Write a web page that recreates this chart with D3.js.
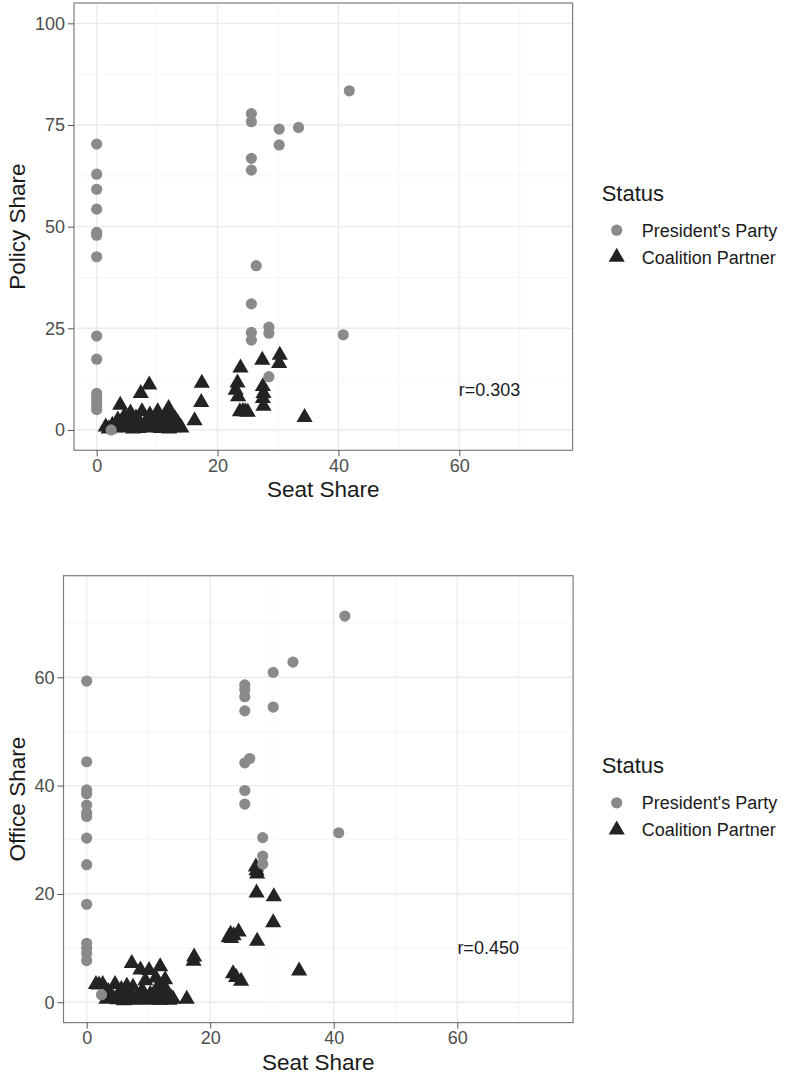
<!DOCTYPE html>
<html lang="en">
<head>
    <meta charset="utf-8">
    <title>Seat share vs policy and office share</title>
    <script src="https://cdn.jsdelivr.net/npm/d3@7"></script>
    <style>
        body { margin: 0; background: #fff; }
        svg { font-family: "Liberation Sans", Arial, sans-serif; }
        .grid-major { stroke: #ebebeb; stroke-width: 1.4; }
        .grid-minor { stroke: #f3f3f3; stroke-width: 0.8; }
        .tick text { fill: #4d4d4d; font-size: 18px; }
        .tick line { stroke: #555; stroke-width: 1; }
        .axis-title { fill: #1a1a1a; font-size: 22.5px; }
        .legend-title { fill: #1a1a1a; font-size: 22px; }
        .legend-label { fill: #1a1a1a; font-size: 18px; }
        .note { fill: #1a1a1a; font-size: 18px; }
        .pres { fill: #8a8a8d; }
        .coal { fill: #232323; }
    </style>
</head>
<body>
<div id="container"></div>
<script>
    const w = 789;
    const h = 1077;

    // president's parties: seat share, policy share, office share
    const presSeat = [0, 0, 0, 0, 0, 0, 0, 0, 0, 0, 0, 0, 0, 0,
        2.4, 25.6, 25.6, 25.6, 25.6, 25.6, 25.6, 25.6, 26.4,
        28.5, 28.5, 28.5, 30.2, 30.2, 33.4, 40.8, 41.8];
    const presPolicy = [70.3, 62.9, 59.2, 54.3, 48.6, 47.9, 42.6, 23.1, 17.4, 9.0, 8.0, 7.0, 6.0, 5.0,
        0.0, 77.8, 75.8, 66.8, 63.9, 31.0, 24.0, 22.1, 40.4,
        25.3, 23.8, 13.1, 74.0, 70.1, 74.4, 23.4, 83.4];
    const presOffice = [59.3, 44.4, 39.2, 38.5, 36.4, 35.0, 34.3, 30.3, 25.4, 18.1, 10.9, 10.0, 9.0, 7.7,
        1.4, 58.6, 57.7, 56.4, 53.8, 44.2, 39.1, 36.6, 45.0,
        30.4, 27.0, 25.5, 60.9, 54.5, 62.8, 31.3, 71.3];

    // coalition partners: seat share, policy share, office share
    const coalSeat = [23.0, 23.3, 23.8, 23.4, 24.6, 23.7, 24.2, 25.0,
        27.4, 27.5, 27.6, 27.5, 27.6, 30.3, 30.2, 34.4, 17.4, 17.3, 16.2,
        8.7, 7.3, 10.1, 11.9, 1.5, 2.6, 3.9, 5.6, 7.5, 8.8, 12.4, 10.3,
        3.2, 4.3, 5.0, 6.2, 6.9, 8.0, 9.3, 9.9, 11.0, 11.5, 12.2, 12.9, 13.4, 14.0,
        2.0, 3.5, 4.6, 5.4, 6.5, 7.0, 8.3, 9.0, 10.6, 11.4, 12.0, 13.0, 13.7, 6.0,
        9.5, 11.2, 12.7];
    const coalPolicy = [9.8, 11.6, 15.3, 8.2, 4.5, 4.5, 4.6, 4.4,
        17.2, 10.7, 9.0, 7.8, 5.9, 18.4, 16.4, 3.1, 11.5, 6.8, 2.3,
        11.1, 9.0, 4.5, 5.3, 0.8, 1.2, 6.1, 4.2, 4.5, 3.7, 3.7, 2.0,
        0.5, 1.6, 0.6, 1.8, 0.4, 1.5, 0.8, 1.3, 2.2, 0.7, 1.4, 0.6, 1.8, 0.5,
        0.3, 2.5, 3.5, 1.0, 3.0, 2.2, 0.5, 2.5, 0.4, 3.2, 0.3, 2.7, 1.0, 0.3,
        1.0, 1.6, 0.9];
    const coalOffice = [12.0, 12.6, 12.3, 11.8, 13.0, 5.3, 4.6, 3.9,
        25.0, 24.3, 23.7, 20.2, 11.3, 19.5, 14.7, 5.8, 8.4, 7.6, 0.6,
        6.0, 7.2, 5.9, 6.6, 3.3, 3.3, 1.0, 2.4, 2.8, 1.2, 2.9, 1.5,
        0.6, 0.8, 0.5, 1.2, 0.9, 0.4, 1.0, 0.6, 1.3, 0.5, 1.8, 0.7, 0.4, 0.6,
        3.2, 2.0, 3.3, 0.6, 3.0, 1.8, 0.5, 2.2, 0.4, 2.6, 0.4, 2.0, 0.8, 0.3,
        4.0, 4.5, 4.2];

    const xTicks = [0, 20, 40, 60];
    const xMinor = [10, 30, 50, 70];
    const policyTicks = [0, 25, 50, 75, 100];
    const policyMinor = [12.5, 37.5, 62.5, 87.5];
    const officeTicks = [0, 20, 40, 60];
    const officeMinor = [10, 30, 50, 70];
    const statusLabels = ["President's Party", "Coalition Partner"];

    const svg = d3.select("div#container").append("svg")
        .attr("width", w)
        .attr("height", h)
        .attr("viewBox", "0 0 " + w + " " + h);

    const circleSym = d3.symbol().type(d3.symbolCircle).size(Math.PI * 5.6 * 5.6);
    const triSym = d3.symbol().type(d3.symbolTriangle).size(Math.PI * 6 * 6);

    function drawPanel(p) {
        const x = d3.scaleLinear().domain([-3.75, 78.75]).range([p.left, p.right]);
        const y = d3.scaleLinear().domain(p.yDomain).range([p.bottom, p.top]);
        const g = svg.append("g");

        // grid
        g.selectAll(".gx-minor").data(xMinor).enter().append("line")
            .attr("class", "grid-minor")
            .attr("x1", d => x(d)).attr("x2", d => x(d))
            .attr("y1", p.top).attr("y2", p.bottom);
        g.selectAll(".gy-minor").data(p.yMinor).enter().append("line")
            .attr("class", "grid-minor")
            .attr("x1", p.left).attr("x2", p.right)
            .attr("y1", d => y(d)).attr("y2", d => y(d));
        g.selectAll(".gx-major").data(xTicks).enter().append("line")
            .attr("class", "grid-major")
            .attr("x1", d => x(d)).attr("x2", d => x(d))
            .attr("y1", p.top).attr("y2", p.bottom);
        g.selectAll(".gy-major").data(p.yTicks).enter().append("line")
            .attr("class", "grid-major")
            .attr("x1", p.left).attr("x2", p.right)
            .attr("y1", d => y(d)).attr("y2", d => y(d));

        // points: partners first, president's parties on top
        const coal = coalSeat.map((s, i) => [s, p.coalY[i]]);
        const pres = presSeat.map((s, i) => [s, p.presY[i]]);
        g.selectAll(".coal").data(coal).enter().append("path")
            .attr("class", "coal")
            .attr("d", triSym)
            .attr("transform", d => "translate(" + x(d[0]) + "," + y(d[1]) + ")");
        g.selectAll(".pres").data(pres).enter().append("path")
            .attr("class", "pres")
            .attr("d", circleSym)
            .attr("transform", d => "translate(" + x(d[0]) + "," + y(d[1]) + ")");

        // border
        g.append("rect")
            .attr("x", p.left).attr("y", p.top)
            .attr("width", p.right - p.left).attr("height", p.bottom - p.top)
            .attr("fill", "none").attr("stroke", "#7d7d7d").attr("stroke-width", 1.2);

        // axes
        g.append("g")
            .attr("transform", "translate(0," + p.bottom + ")")
            .call(d3.axisBottom(x).tickValues(xTicks).tickSize(6).tickPadding(3))
            .call(a => a.select(".domain").remove())
            .selectAll("text").attr("font-family", null).attr("font-size", null);
        g.append("g")
            .attr("transform", "translate(" + p.left + ",0)")
            .call(d3.axisLeft(y).tickValues(p.yTicks).tickSize(6).tickPadding(3))
            .call(a => a.select(".domain").remove())
            .selectAll("text").attr("font-family", null).attr("font-size", null);

        // titles
        g.append("text").attr("class", "axis-title")
            .attr("text-anchor", "middle")
            .attr("x", (p.left + p.right) / 2).attr("y", p.xTitleY)
            .text("Seat Share");
        g.append("text").attr("class", "axis-title")
            .attr("text-anchor", "middle")
            .attr("transform", "translate(25," + (p.top + p.bottom) / 2 + ") rotate(-90)")
            .text(p.yTitle);

        // correlation note
        g.append("text").attr("class", "note")
            .attr("text-anchor", "middle")
            .attr("x", x(65)).attr("y", y(10) + 6.3)
            .text(p.note);

        // legend
        const lg = g.append("g").attr("transform", "translate(601.7," + p.legendY + ")");
        lg.append("text").attr("class", "legend-title").attr("x", 0).attr("y", 0).text("Status");
        lg.append("path").attr("class", "pres").attr("d", circleSym)
            .attr("transform", "translate(15,29.5)");
        lg.append("path").attr("class", "coal").attr("d", triSym)
            .attr("transform", "translate(15,56.5)");
        lg.selectAll(".legend-label").data(statusLabels).enter().append("text")
            .attr("class", "legend-label")
            .attr("x", 40)
            .attr("y", (d, i) => 29.5 + i * 27 + 6.5)
            .text(d => d);
    }

    drawPanel({
        left: 74, right: 572.6, top: 3, bottom: 450.3,
        yDomain: [-5, 105], yTicks: policyTicks, yMinor: policyMinor,
        presY: presPolicy, coalY: coalPolicy,
        yTitle: "Policy Share", xTitleY: 497, note: "r=0.303", legendY: 200.7
    });

    drawPanel({
        left: 63.5, right: 573.1, top: 575.7, bottom: 1022.6,
        yDomain: [-3.75, 78.75], yTicks: officeTicks, yMinor: officeMinor,
        presY: presOffice, coalY: coalOffice,
        yTitle: "Office Share", xTitleY: 1070, note: "r=0.450", legendY: 773.3
    });
</script>
</body>
</html>
